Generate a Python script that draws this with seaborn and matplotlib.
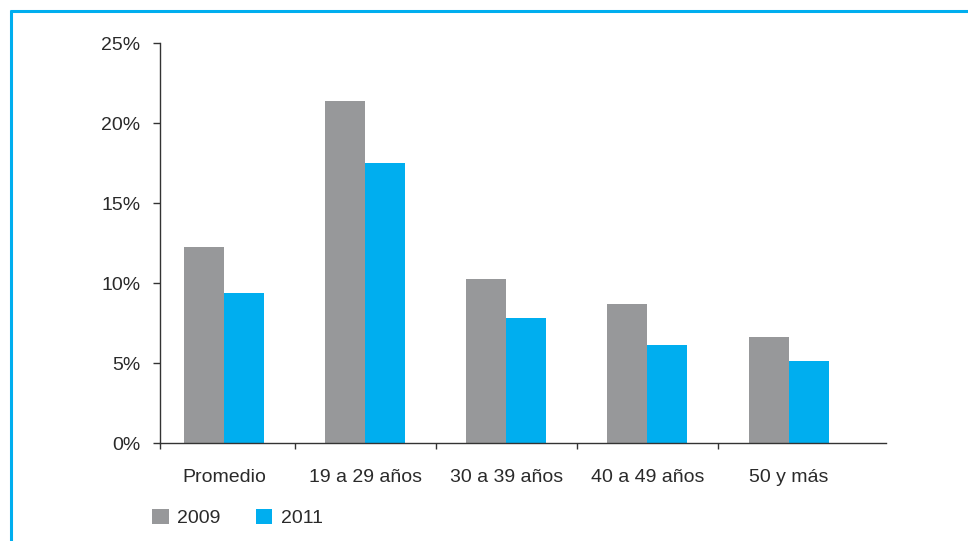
import matplotlib
matplotlib.use("Agg")
import matplotlib.pyplot as plt
import seaborn as sns
import pandas as pd
from matplotlib.lines import Line2D
from matplotlib.patches import Patch
from matplotlib.ticker import FixedLocator, FuncFormatter

categories = ["Promedio", "19 a 29 años", "30 a 39 años", "40 a 49 años", "50 y más"]
years = ["2009", "2011"]
values_2009 = [12.25, 21.4, 10.25, 8.7, 6.6]
values_2011 = [9.4, 17.5, 7.8, 6.1, 5.1]
colors = ["#97989a", "#00aeef"]
yticks = [0, 5, 10, 15, 20, 25]

df = pd.DataFrame({
    "cat": categories * 2,
    "year": [years[0]] * 5 + [years[1]] * 5,
    "val": values_2009 + values_2011,
})

sns.set_style("white")
plt.rcParams["font.family"] = ["Liberation Sans", "DejaVu Sans"]

fig = plt.figure(figsize=(9.68, 5.41), dpi=100)
ax = fig.add_axes([160/968, 1-443/541, (886-160)/968, (443-43)/541])

sns.barplot(data=df, x="cat", y="val", hue="year", palette=colors,
            width=0.567, saturation=1, ax=ax, legend=False, linewidth=0)

ax.set_xlim(-0.454, 4.69)
ax.set_ylim(0, 25)
ax.set_yticks(yticks)
ax.yaxis.set_major_formatter(FuncFormatter(lambda v, p: f"{int(v)}%"))
ax.set_xlabel("")
ax.set_ylabel("")

for s in ["top", "right"]:
    ax.spines[s].set_visible(False)
for s in ["left", "bottom"]:
    ax.spines[s].set_color("#333333")
    ax.spines[s].set_linewidth(1.0)

ax.tick_params(axis="y", which="major", length=5, width=1, color="#333333",
               labelsize=14, pad=9, labelcolor="#2a2a2a", left=True)
ax.tick_params(axis="x", which="major", length=0, labelsize=14, pad=19,
               labelcolor="#2a2a2a")
ax.xaxis.set_minor_locator(FixedLocator([-0.454, 0.5, 1.5, 2.5, 3.5]))
ax.tick_params(axis="x", which="minor", length=4, width=1, color="#333333",
               bottom=True)

handles = [Patch(facecolor=c, edgecolor="none") for c in colors]
fig.legend(handles, years, loc="center left",
           bbox_to_anchor=(152/968, 1-518/541), ncol=2, frameon=False,
           fontsize=14, handlelength=0.85, handleheight=0.85,
           handletextpad=0.45, columnspacing=1.8, borderpad=0,
           borderaxespad=0, labelcolor="#2a2a2a")

# blue frame lines
fig.add_artist(Line2D([10/968, 1.0], [1-10.5/541, 1-10.5/541],
                      transform=fig.transFigure, color="#00aeef", linewidth=2.2,
                      solid_capstyle="butt"))
fig.add_artist(Line2D([10.5/968, 10.5/968], [0, 1-9.5/541],
                      transform=fig.transFigure, color="#00aeef", linewidth=2.2,
                      solid_capstyle="butt"))

fig.savefig("out.png", dpi=100)
